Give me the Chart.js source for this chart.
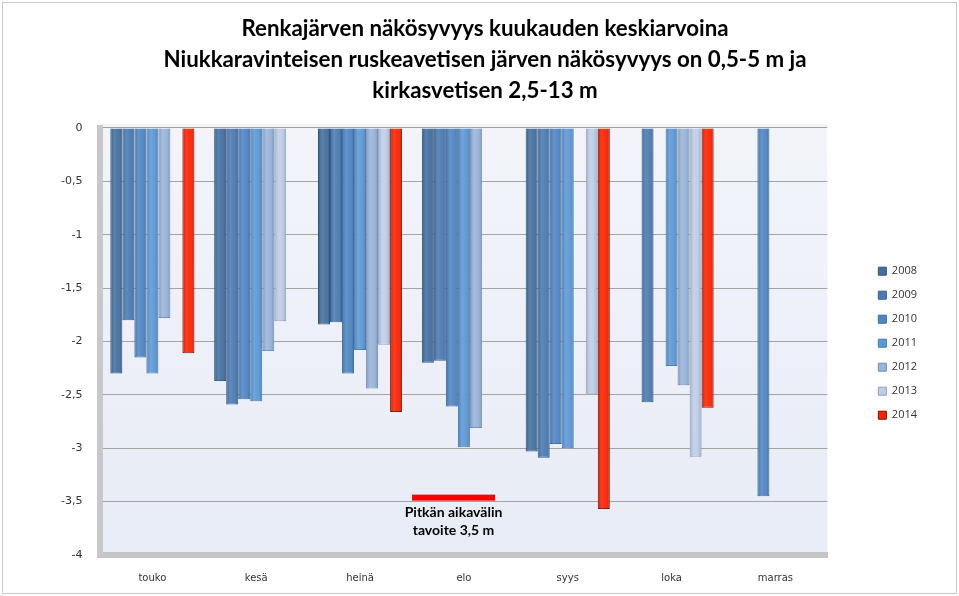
<!DOCTYPE html>
<html>
<head>
<meta charset="utf-8">
<script src="https://cdn.jsdelivr.net/npm/chart.js@4"></script>
<style>
  html, body { margin: 0; padding: 0; background: #fff; }
  #wrap { position: absolute; left: 2px; top: 2px; width: 953px; height: 590px; border: 1px solid #c9c9c9; }
  canvas { display: block; }
</style>
</head>
<body>
<div id="wrap"><canvas id="chart" width="953" height="590"></canvas></div>
<script>
const months = ["touko", "kesä", "heinä", "elo", "syys", "loka", "marras"];
const years = ["2008", "2009", "2010", "2011", "2012", "2013", "2014"];

// monthly mean Secchi depth (m), 0 = no measurement
const v2008 = [-2.30, -2.37, -1.84, -2.20, -3.03, 0, 0];
const v2009 = [-1.80, -2.59, -1.82, -2.18, -3.09, -2.57, 0];
const v2010 = [-2.15, -2.54, -2.30, -2.61, -2.96, 0, -3.45];
const v2011 = [-2.30, -2.56, -2.08, -2.99, -3.00, -2.23, 0];
const v2012 = [-1.78, -2.09, -2.44, -2.81, 0, -2.41, 0];
const v2013 = [0, -1.81, -2.03, 0, -2.49, -3.08, 0];
const v2014 = [-2.11, 0, -2.66, 0, -3.57, -2.62, 0];

const yTicks = [0, -0.5, -1, -1.5, -2, -2.5, -3, -3.5, -4];
const target = -3.5;
const targetText = ["Pitkän aikavälin", "tavoite 3,5 m"];

const colors = ["#43709f", "#4a7bb2", "#4f86c4", "#5c98d6", "#98b4da", "#bdcee6", "#ff2200"];
const borders = ["#2f5580", "#355f8f", "#3a6aa0", "#4479b2", "#6f8fba", "#8aa2c4", "#7a1000"];
const series = [v2008, v2009, v2010, v2011, v2012, v2013, v2014];

const plotBg = {
  id: "plotBg",
  beforeDraw(chart) {
    const { ctx, chartArea: a } = chart;
    const g = ctx.createLinearGradient(0, a.top, 0, a.bottom);
    g.addColorStop(0, "#f2f4fa");
    g.addColorStop(1, "#e8ecf6");
    ctx.save();
    ctx.fillStyle = g;
    ctx.fillRect(a.left, a.top - 4, a.right - a.left, a.bottom - a.top + 4);
    ctx.restore();
  }
};

// cylinder-ish shading on top of each bar
const shade = {
  id: "shade",
  afterDatasetsDraw(chart) {
    const ctx = chart.ctx;
    chart.data.datasets.forEach((ds, i) => {
      chart.getDatasetMeta(i).data.forEach(bar => {
        if (Math.abs(bar.y - bar.base) < 1) return;
        const l = bar.x - bar.width / 2, r = bar.x + bar.width / 2;
        const g = ctx.createLinearGradient(l, 0, r, 0);
        g.addColorStop(0, "rgba(0,0,0,0.18)");
        g.addColorStop(0.35, "rgba(255,255,255,0.12)");
        g.addColorStop(0.6, "rgba(255,255,255,0.05)");
        g.addColorStop(1, "rgba(0,0,0,0.2)");
        ctx.save();
        ctx.fillStyle = g;
        ctx.fillRect(l + 1, bar.base, bar.width - 2, bar.y - bar.base);
        ctx.restore();
      });
    });
  }
};

const targetLine = {
  id: "targetLine",
  afterDatasetsDraw(chart) {
    const { ctx, scales: { x, y } } = chart;
    const cw = x.getPixelForValue(1) - x.getPixelForValue(0);
    const cx = x.getPixelForValue(3);
    const py = y.getPixelForValue(target) - 4;
    ctx.save();
    ctx.fillStyle = "#ff0000";
    ctx.fillRect(cx - 0.5 * cw, py - 3, 0.8 * cw, 6);
    ctx.fillStyle = "#000";
    ctx.font = "bold 14px Lato, 'Open Sans', sans-serif";
    ctx.textAlign = "center";
    ctx.textBaseline = "middle";
    ctx.fillText(targetText[0], cx - 0.1 * cw, py + 15);
    ctx.fillText(targetText[1], cx - 0.1 * cw, py + 33);
    ctx.restore();
  }
};

new Chart(document.getElementById("chart"), {
  type: "bar",
  data: {
    labels: months,
    datasets: years.map((yr, i) => ({
      label: yr,
      data: series[i],
      backgroundColor: colors[i],
      borderColor: borders[i],
      borderWidth: 1,
      categoryPercentage: 0.81,
      barPercentage: 1.0
    }))
  },
  options: {
    responsive: false,
    animation: false,
    layout: { padding: { left: 40, right: 29, top: 0, bottom: 0 } },
    plugins: {
      title: {
        display: true,
        text: ["Renkajärven näkösyvyys kuukauden keskiarvoina",
               "Niukkaravinteisen ruskeavetisen järven näkösyvyys on 0,5-5 m ja",
               "kirkasvetisen 2,5-13 m"],
        font: { family: "Lato, 'Open Sans', sans-serif", size: 22.3, weight: "bold", lineHeight: 1.39 },
        color: "#000",
        padding: { top: 10, bottom: 22 }
      },
      legend: {
        position: "right",
        title: { display: true, text: " ", font: { size: 12 }, padding: { top: 76, bottom: 0 } },
        labels: {
          boxWidth: 8,
          boxHeight: 8,
          padding: 13,
          color: "#333",
          font: { family: "'Open Sans', sans-serif", size: 11 }
        }
      },
      tooltip: { enabled: false }
    },
    scales: {
      x: {
        grid: { display: false, drawTicks: false },
        border: { display: true, color: "#c4c4c4", width: 6 },
        ticks: { color: "#333", padding: 17, font: { family: "'DejaVu Sans', sans-serif", size: 10 } },
        afterFit(s) { s.height = 38; }
      },
      y: {
        min: -4,
        max: 0,
        afterBuildTicks(axis) { axis.ticks = yTicks.map(v => ({ value: v })); },
        grid: { color: "#a3a3a3", lineWidth: 1, drawTicks: false },
        border: { display: true, color: "#c8c8c8", width: 6 },
        ticks: {
          color: "#333",
          padding: 18,
          font: { family: "'DejaVu Sans', sans-serif", size: 11 },
          callback: v => String(v).replace(".", ",")
        }
      },
      gap: {
        position: "right",
        display: true,
        grid: { display: false, drawTicks: false },
        border: { display: false },
        ticks: { display: false },
        afterFit(s) { s.width = 38; }
      }
    }
  },
  plugins: [plotBg, shade, targetLine]
});
</script>
</body>
</html>
